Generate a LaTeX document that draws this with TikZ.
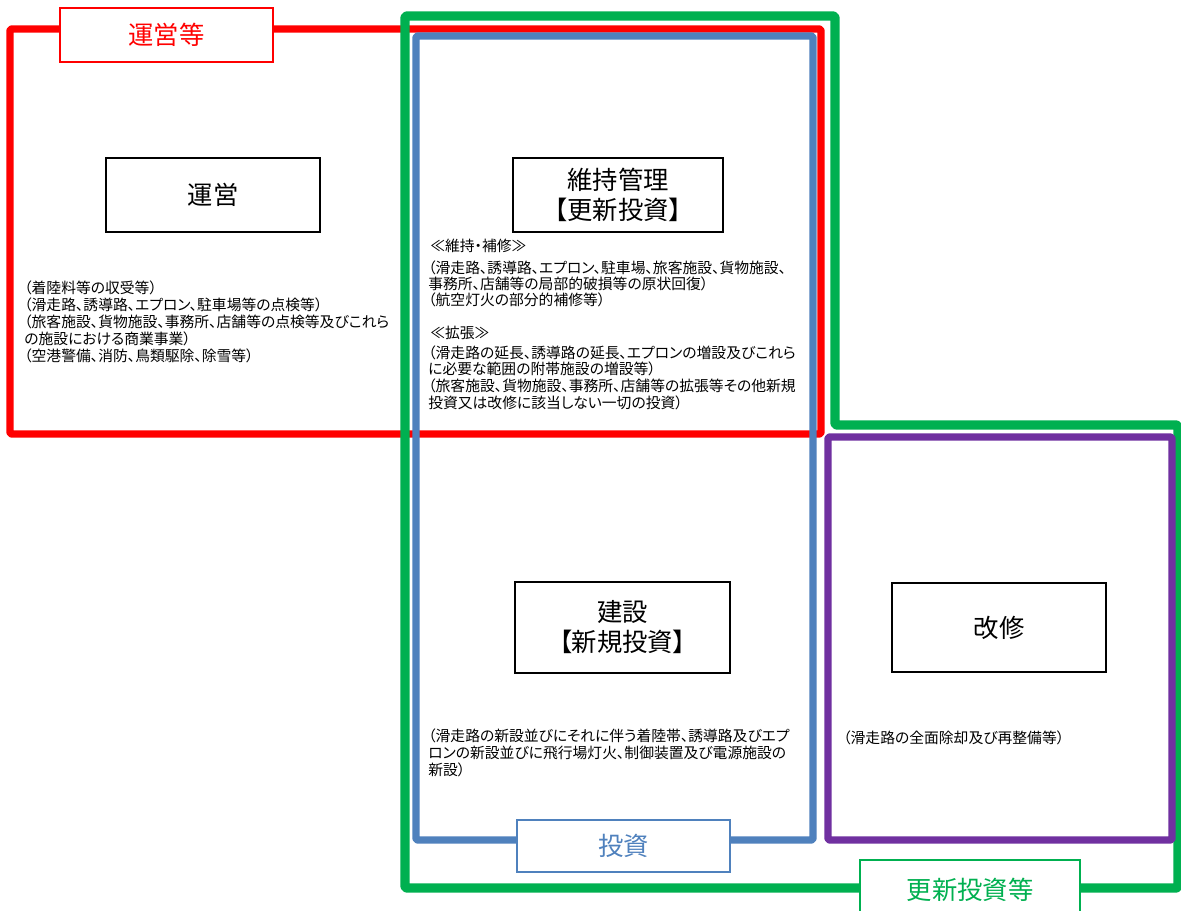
\documentclass[tikz,border=0pt]{standalone}
\usepackage{fontspec}
\newfontfamily\jp[RawFeature=+palt]{Noto Sans CJK JP}
\definecolor{cred}{HTML}{FF0000}
\definecolor{cgreen}{HTML}{00B050}
\definecolor{cblue}{HTML}{4F81BD}
\definecolor{cpurple}{HTML}{7030A0}
\begin{document}
\begin{tikzpicture}[x=0.75pt,y=-0.75pt,
  frame/.style={line width=5.6pt, line join=round, rounded corners=1.5pt},
  tag/.style={draw, line width=1.5pt, fill=white, inner sep=0pt, font=\jp\fontsize{19}{22}\selectfont},
  inbox/.style={draw=black, line width=1.5pt, fill=white, inner sep=0pt, align=center, font=\jp\fontsize{19}{22.5}\selectfont},
  small/.style={inner sep=0pt, anchor=base west, font=\jp\fontsize{11.1}{12.5}\selectfont}]
\useasboundingbox (0,0) rectangle (1181,910);
\fill[white] (0,0) rectangle (1181,910);

% frames
\draw[frame, cred] (10,29) rectangle (821,434);
\draw[frame, cgreen, line width=7pt] (405,16) -- (835,16) -- (835,425) -- (1178,425) -- (1178,888) -- (405,888) -- cycle;
\draw[frame, cblue] (416,36) rectangle (813,840);
\draw[frame, cpurple] (828,437) rectangle (1172,840);

% frame labels
\node[tag, draw=cred, text=cred, minimum width=159.75pt, minimum height=40.5pt] (tunei) at (166.5,35) {運営等};
\node[tag, draw=cblue, text=cblue, minimum width=159.75pt, minimum height=39pt] (ttoushi) at (623.5,846) {投資};
\node[tag, draw=cgreen, text=cgreen, minimum width=165pt, minimum height=45pt] (tkoushin) at (970,890) {更新投資等};

% inner boxes
\node[inbox, minimum width=160.5pt, minimum height=55.5pt] (unei) at (213,195) {運営};
\node[inbox, minimum width=157.5pt, minimum height=55.5pt] (iji) at (618,195) {維持管理\\【更新投資】};
\node[inbox, minimum width=161.25pt, minimum height=68.25pt] (kensetsu) at (622.5,627.5) {建設\\【新規投資】};
\node[inbox, minimum width=160.5pt, minimum height=66.75pt] (kaishu) at (999,627.5) {改修};

% left texts
\foreach \t [count=\i from 0] in {（着陸料等の収受等）,（滑走路、誘導路、エプロン、駐車場等の点検等）,（旅客施設、貨物施設、事務所、店舗等の点検等及びこれら,の施設における商業事業）,（空港警備、消防、鳥類駆除、除雪等）}
  \node[small] (a\i) at (24,{293+17*\i}) {\t};

% middle texts
\node[small] (h1) at (430,251) {≪維持・補修≫};
\foreach \t [count=\i from 0] in {（滑走路、誘導路、エプロン、駐車場、旅客施設、貨物施設、,事務所、店舗等の局部的破損等の原状回復）,（航空灯火の部分的補修等）}
  \node[small] (b\i) at (428,{273+16*\i}) {\t};
\node[small] (h2) at (430,338) {≪拡張≫};
\foreach \t [count=\i from 0] in {（滑走路の延長、誘導路の延長、エプロンの増設及びこれら,に必要な範囲の附帯施設の増設等）,（旅客施設、貨物施設、事務所、店舗等の拡張等その他新規,投資又は改修に該当しない一切の投資）}
  \node[small] (c\i) at (428,{358+16.7*\i}) {\t};

% construction text
\foreach \t [count=\i from 0] in {（滑走路の新設並びにそれに伴う着陸帯、誘導路及びエプ,ロンの新設並びに飛行場灯火、制御装置及び電源施設の,新設）}
  \node[small] (d\i) at (428,{741+17*\i}) {\t};

% renovation text
\node[small] (e0) at (843,743) {（滑走路の全面除却及び再整備等）};
\end{tikzpicture}
\end{document}
